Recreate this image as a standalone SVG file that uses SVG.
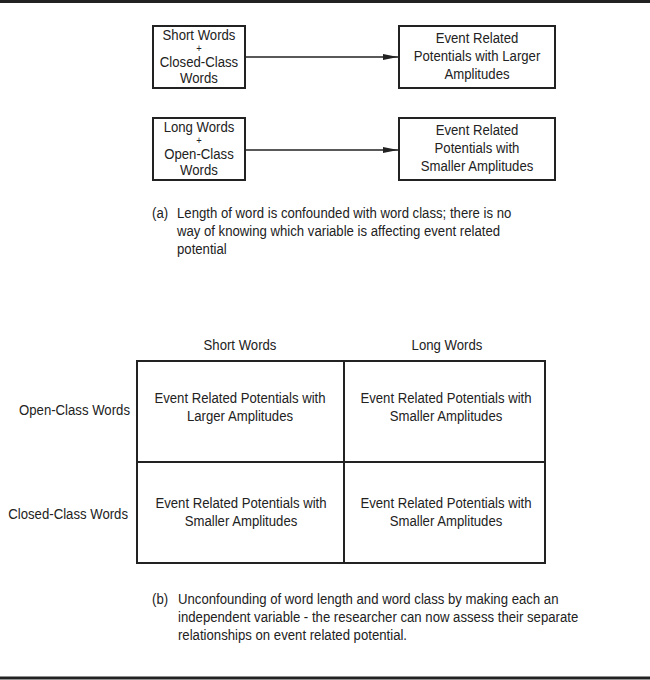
<svg xmlns="http://www.w3.org/2000/svg" width="650" height="680" viewBox="0 0 650 680">
<defs>
<style>
text{font-family:"Liberation Sans",Arial,sans-serif;font-size:14.8px;fill:#222;transform-box:fill-box;transform:scaleX(0.89);transform-origin:left center}
.c{text-anchor:middle;transform-origin:center}
.r{text-anchor:end;transform-origin:right center}
.p{font-size:10.5px}
.box{fill:#fff;stroke:#222;stroke-width:2}
.ln{stroke:#222;stroke-width:1.3;fill:none}
.rule{stroke:#222;stroke-width:3}
</style>
<marker id="ah" viewBox="0 0 10 10" refX="10" refY="5" markerWidth="15" markerHeight="6" markerUnits="userSpaceOnUse" orient="auto" preserveAspectRatio="none"><path d="M0,0 L10,5 L0,10 z" fill="#222"/></marker>
</defs>
<rect width="650" height="680" fill="#fff"/>
<line class="rule" x1="0" y1="1.5" x2="650" y2="1.5"/>
<line class="rule" x1="0" y1="678" x2="650" y2="678"/>
<g id="connectors">
<line class="ln" x1="245" y1="57" x2="398" y2="57" marker-end="url(#ah)"/>
<line class="ln" x1="245" y1="150" x2="398" y2="150" marker-end="url(#ah)"/>
</g>
<g id="n1">
<rect class="box" x="153" y="26" width="92" height="62"/>
<text class="c" x="199" y="40">Short Words</text>
<text class="c p" x="199" y="52.5">+</text>
<text class="c" x="199" y="67">Closed-Class</text>
<text class="c" x="199" y="83">Words</text>
</g>
<g id="n2">
<rect class="box" x="399" y="26" width="156" height="62"/>
<text class="c" x="477" y="43">Event Related</text>
<text class="c" x="477" y="61">Potentials with Larger</text>
<text class="c" x="477" y="79">Amplitudes</text>
</g>
<g id="n3">
<rect class="box" x="153" y="118" width="92" height="62"/>
<text class="c" x="199" y="132">Long Words</text>
<text class="c p" x="199" y="144.5">+</text>
<text class="c" x="199" y="159">Open-Class</text>
<text class="c" x="199" y="175">Words</text>
</g>
<g id="n4">
<rect class="box" x="399" y="118" width="156" height="62"/>
<text class="c" x="477" y="135">Event Related</text>
<text class="c" x="477" y="153">Potentials with</text>
<text class="c" x="477" y="171">Smaller Amplitudes</text>
</g>
<g id="captionA">
<text x="152" y="218">(a)</text>
<text x="177" y="218">Length of word is confounded with word class; there is no</text>
<text x="177" y="236">way of knowing which variable is affecting event related</text>
<text x="177" y="254">potential</text>
</g>
<g id="grid">
<rect class="box" x="137" y="361" width="408" height="202"/>
<line class="box" x1="344" y1="361" x2="344" y2="563"/>
<line class="box" x1="137" y1="462" x2="545" y2="462"/>
</g>
<g id="headers">
<text class="c" x="240" y="350">Short Words</text>
<text class="c" x="447" y="350">Long Words</text>
<text class="r" x="130" y="415">Open-Class Words</text>
<text class="r" x="128" y="519">Closed-Class Words</text>
</g>
<g id="cell11"><text class="c" x="240" y="403">Event Related Potentials with</text><text class="c" x="240" y="421">Larger Amplitudes</text></g>
<g id="cell12"><text class="c" x="446" y="403">Event Related Potentials with</text><text class="c" x="446" y="421">Smaller Amplitudes</text></g>
<g id="cell21"><text class="c" x="241" y="508">Event Related Potentials with</text><text class="c" x="241" y="526">Smaller Amplitudes</text></g>
<g id="cell22"><text class="c" x="446" y="508">Event Related Potentials with</text><text class="c" x="446" y="526">Smaller Amplitudes</text></g>
<g id="captionB">
<text x="152" y="604">(b)</text>
<text x="178" y="604">Unconfounding of word length and word class by making each an</text>
<text x="178" y="622">independent variable - the researcher can now assess their separate</text>
<text x="178" y="640">relationships on event related potential.</text>
</g>
</svg>
